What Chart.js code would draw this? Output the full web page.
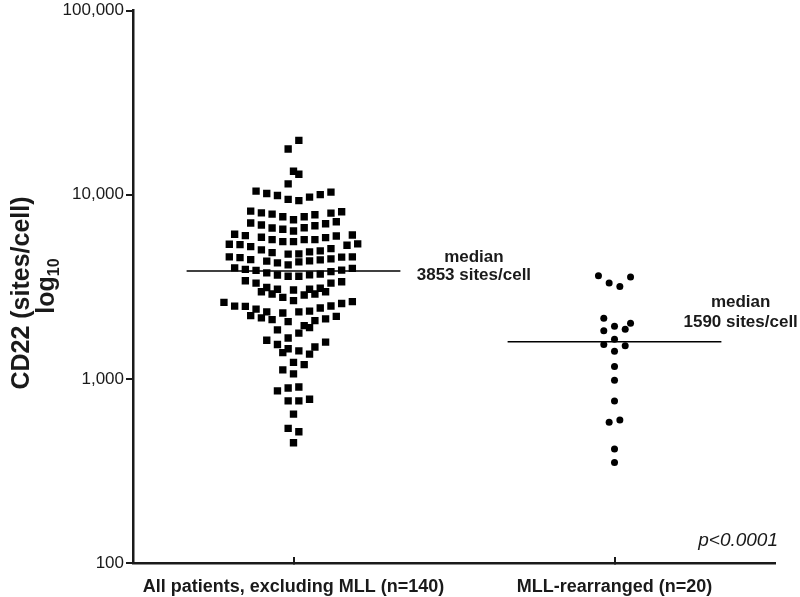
<!DOCTYPE html>
<html>
<head>
<meta charset="utf-8">
<script src="https://cdn.jsdelivr.net/npm/chart.js@4/dist/chart.umd.min.js"></script>
<style>
  html, body { margin: 0; padding: 0; background: #fff; }
</style>
</head>
<body>
<canvas id="cd22Chart" width="800" height="597"></canvas>
<script>
// Groups on the x axis and the log ticks on y
const groups = ['All patients, excluding MLL (n=140)', 'MLL-rearranged (n=20)'];
const yTicks = [100, 1000, 10000, 100000];
const medians = [3853, 1590];
const medianLabels = ['3853 sites/cell', '1590 sites/cell'];

// CD22 sites/cell per patient (non-MLL, n=140)
const otherValues = [
  19710, 17690, 13400, 12905, 11440,
  10445, 10150, 9900, 9420, 9280, 9695, 10000, 10315,
  8143, 7971, 7844, 7586, 7310, 7586, 7776, 7943, 8072,
  7015, 6842, 6592, 6486, 6350, 6616, 6784, 6955, 7129,
  6095, 5990, 5871, 5698, 5558, 5558, 5698, 5698, 5843, 5968, 6042,
  5381, 5354, 5222, 5012, 4846, 4751, 4769, 4890, 4951, 5093, 5315, 5401,
  4594, 4554, 4442, 4354, 4263, 4158, 4316, 4370, 4424, 4480, 4576, 4594,
  4006, 3932, 3883, 3764, 3663, 3608, 3604, 3671, 3703, 3821, 3894, 3981,
  3407, 3311, 3311, 3365,
  2972, 3134, 2888, 3065, 2769, 3035, 2852, 3065, 2888, 3104, 2972, 2657,
  2601, 2481, 2475, 2390, 2308, 2279, 2308, 2331, 2426, 2487, 2566, 2624,
  2204, 2142, 2097, 2046, 1946, 1898, 2071, 2116, 2183,
  1844, 1772,
  1619, 1666, 1581,
  1537, 1489, 1388, 1457, 1418, 1362,
  1228, 1194, 1118, 1064, 861, 892, 903, 759, 759, 775, 643, 538, 516, 450
];
// swarm column of each point (1 column = 1/60 of the group spacing)
const otherSlots = [
  1, -1, 0, 1, -1,
  -7, -5, -3, -1, 1, 3, 5, 7,
  -8, -6, -4, -2, 0, 2, 4, 7, 9,
  -8, -6, -4, -2, 0, 2, 4, 6, 8,
  -11, -9, -6, -4, -2, 0, 2, 4, 6, 8, 11,
  -12, -10, -8, -6, -4, -1, 1, 3, 5, 7, 10, 12,
  -12, -10, -8, -5, -3, -1, 1, 3, 5, 7, 9, 11,
  -11, -9, -7, -5, -3, -1, 1, 3, 5, 7, 9, 11,
  -9, -7, 7, 9,
  -6, -5, -4, -3, -2, 0, 2, 3, 4, 5, 6, 0,
  -13, -11, -9, -7, -5, -2, 1, 3, 5, 7, 9, 11,
  -8, -6, -4, -1, 2, 3, 4, 6, 8,
  -3, 1,
  -5, -1, 6,
  -3, 4, -2, -1, 1, 3,
  0, 2, -2, 0, -3, -1, 1, -1, 1, 3, 0, -1, 1, 0
];

// MLL-rearranged, n=20
const mllValues = [3626, 3311, 3175, 3568, 2131, 1929, 2003, 1822, 1859, 1641,
                   1537, 1512, 1414, 1168, 981, 759, 582, 597, 416, 351];
const mllSlots = [-3, -1, 1, 3, -2, 0, 3, -2, 2, 0, -2, 2, 0, 0, 0, 0, -1, 1, 0, 0];

const SLOT = 1 / 60;
const MEDIAN_HALF = 0.333;

function swarm(groupPos, values, slots) {
  return values.map((v, i) => ({ x: groupPos + slots[i] * SLOT, y: v }));
}
function medianLine(groupPos, m) {
  return [{ x: groupPos - MEDIAN_HALF, y: m }, { x: groupPos + MEDIAN_HALF, y: m }];
}

const FONT = '"Liberation Sans", Arial, sans-serif';
const INK = '#1a1a1a';

// extra text: y title with subscript, median notes, p value
const textPlugin = {
  id: 'texts',
  afterDraw(chart) {
    const ctx = chart.ctx;
    const xs = chart.scales.x, ys = chart.scales.y;
    ctx.save();
    ctx.fillStyle = INK;

    // y axis title
    ctx.save();
    ctx.translate(22, 293);
    ctx.rotate(-Math.PI / 2);
    ctx.font = 'bold 25px ' + FONT;
    ctx.textAlign = 'center';
    ctx.textBaseline = 'middle';
    ctx.fillText('CD22 (sites/cell)', 0, 0);
    ctx.restore();

    ctx.save();
    ctx.translate(47, 286);
    ctx.rotate(-Math.PI / 2);
    ctx.textBaseline = 'middle';
    ctx.textAlign = 'left';
    ctx.font = 'bold 25px ' + FONT;
    const wLog = ctx.measureText('log').width;
    ctx.font = 'bold 16px ' + FONT;
    const wSub = ctx.measureText('10').width;
    const start = -(wLog + wSub) / 2;
    ctx.font = 'bold 25px ' + FONT;
    ctx.fillText('log', start, 0);
    ctx.font = 'bold 16px ' + FONT;
    ctx.fillText('10', start + wLog, 8);
    ctx.restore();

    // median notes
    ctx.font = 'bold 17px ' + FONT;
    ctx.textAlign = 'center';
    ctx.textBaseline = 'middle';
    const notes = [
      { x: 1.562, top: 4594, bottom: 3626 },
      { x: 2.393, top: 2591, bottom: 2020 }
    ];
    notes.forEach((n, i) => {
      const px = xs.getPixelForValue(n.x);
      ctx.fillText('median', px, ys.getPixelForValue(n.top));
      ctx.fillText(medianLabels[i], px, ys.getPixelForValue(n.bottom));
    });

    // p value
    ctx.font = 'italic 19px ' + FONT;
    ctx.textAlign = 'right';
    ctx.fillText('p<0.0001', 778, 541);
    ctx.restore();
  }
};

const ctx = document.getElementById('cd22Chart').getContext('2d');
new Chart(ctx, {
  type: 'scatter',
  data: {
    datasets: [
      {
        label: groups[0],
        data: swarm(1, otherValues, otherSlots),
        pointStyle: 'rect',
        pointRadius: 5.2,
        pointBackgroundColor: '#000',
        pointBorderWidth: 0
      },
      {
        label: groups[1],
        data: swarm(2, mllValues, mllSlots),
        pointStyle: 'circle',
        pointRadius: 3.5,
        pointBackgroundColor: '#000',
        pointBorderWidth: 0
      },
      {
        type: 'line',
        label: 'median 1',
        data: medianLine(1, medians[0]),
        borderColor: '#000',
        borderWidth: 1.6,
        pointRadius: 0
      },
      {
        type: 'line',
        label: 'median 2',
        data: medianLine(2, medians[1]),
        borderColor: '#000',
        borderWidth: 1.6,
        pointRadius: 0
      }
    ]
  },
  options: {
    responsive: false,
    animation: false,
    layout: { padding: { top: 8, right: 25, left: 0, bottom: 0 } },
    plugins: {
      legend: { display: false },
      tooltip: { enabled: false }
    },
    scales: {
      x: {
        type: 'linear',
        min: 0.5,
        max: 2.5,
        afterBuildTicks: (scale) => { scale.ticks = [{ value: 1 }, { value: 2 }]; },
        afterFit: (scale) => { scale.height = 34; },
        ticks: {
          autoSkip: false,
          maxRotation: 0,
          padding: 21,
          color: INK,
          font: { family: FONT, size: 18, weight: 'bold', lineHeight: 1 },
          callback: (v, i) => groups[i]
        },
        // tick marks point up into the plot
        grid: { drawOnChartArea: false, drawTicks: true, tickLength: -6, color: INK, lineWidth: 2 },
        border: { display: true, color: INK, width: 2.5 }
      },
      y: {
        type: 'logarithmic',
        min: 100,
        max: 100000,
        afterBuildTicks: (scale) => { scale.ticks = yTicks.map(v => ({ value: v })); },
        afterFit: (scale) => { scale.width = 133; },
        ticks: {
          padding: 2,
          color: INK,
          font: { family: FONT, size: 17, lineHeight: 1 },
          callback: (v) => Number(v).toLocaleString('en-US')
        },
        grid: { drawOnChartArea: false, drawTicks: true, tickLength: 7, color: INK, lineWidth: 2 },
        border: { display: true, color: INK, width: 2.5 }
      }
    }
  },
  plugins: [textPlugin]
});
</script>
</body>
</html>
